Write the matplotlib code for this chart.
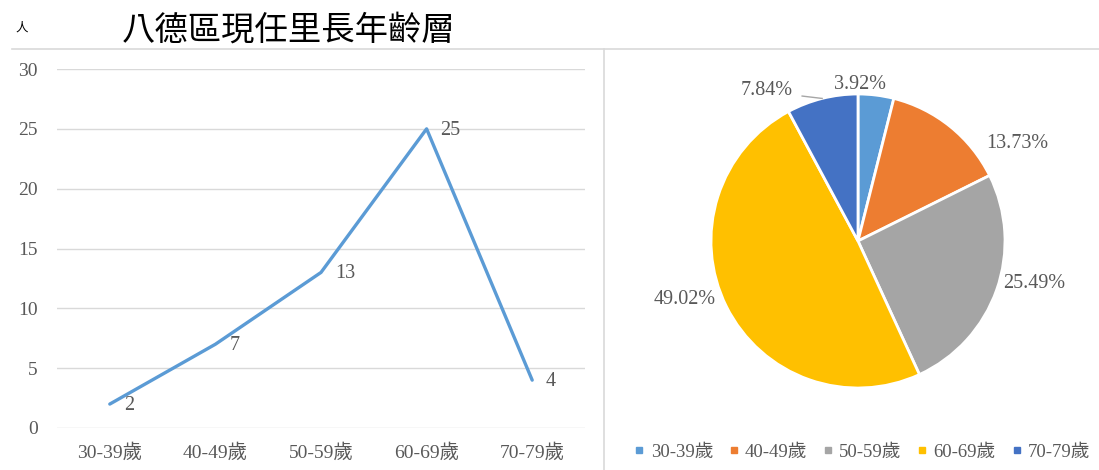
import matplotlib
matplotlib.use("Agg")
import matplotlib.pyplot as plt
from matplotlib.lines import Line2D
import numpy as np

plt.rcParams['font.family'] = ['Liberation Serif', 'Noto Sans CJK TC', 'DejaVu Sans']

categories = ["30-39歲", "40-49歲", "50-59歲", "60-69歲", "70-79歲"]
counts = [2, 7, 13, 25, 4]
title = "八德區現任里長年齡層"
unit_label = "人"
yticks = [0, 5, 10, 15, 20, 25, 30]
pie_colors = ["#5B9BD5", "#ED7D31", "#A5A5A5", "#FFC000", "#4472C4"]

TXT = "#595959"
GRID = "#D9D9D9"
W, H = 1099, 470

fig = plt.figure(figsize=(W / 100, H / 100), dpi=100)

def fx(px):
    return px / W

def fy(py):
    return 1 - py / H

# separator lines
fig.add_artist(Line2D([fx(12), fx(1099)], [fy(49), fy(49)], color=GRID, lw=1.2))
fig.add_artist(Line2D([fx(604), fx(604)], [fy(49), fy(470)], color=GRID, lw=1.2))

# title texts
fig.text(fx(122), fy(30), title, fontsize=24, color="black", ha="left", va="center",
         family=['Noto Sans CJK TC'])
fig.text(fx(22), fy(28), unit_label, fontsize=9, color="black", ha="center", va="center",
         family=['Noto Sans CJK TC'])

# line chart
ax = fig.add_axes([fx(57), fy(428), fx(585) - fx(57), fy(69) - fy(428)])
x = np.arange(len(categories))
ax.plot(x, counts, color="#5B9BD5", lw=2.4, solid_capstyle="round", zorder=3)
for xi, v in zip(x, counts):
    ax.annotate(str(v), (xi, v), xytext=(10, -1), textcoords="offset points",
                ha="left", va="center", fontsize=14.5, color=TXT)
ax.set_xlim(-0.5, len(categories) - 0.5)
ax.set_ylim(0, 30)
ax.set_yticks(yticks)
ax.set_xticks(x)
ax.set_xticklabels(categories)
ax.grid(axis="y", color=GRID, lw=1)
ax.set_axisbelow(True)
for s in ax.spines.values():
    s.set_visible(False)
ax.tick_params(axis="both", length=0, colors=TXT, labelsize=14)
ax.tick_params(axis="x", pad=11)
ax.tick_params(axis="y", pad=14)

# pie chart
r = 147
axp = fig.add_axes([fx(858 - r), fy(241 + r), fx(2 * r), fy(241 - r) - fy(241 + r)])
wedges, _ = axp.pie(counts, colors=pie_colors, startangle=90, counterclock=False,
                    wedgeprops=dict(edgecolor="white", linewidth=2))
axp.set_xlim(-1, 1)
axp.set_ylim(-1, 1)
axp.set_aspect("equal")
axp.axis("off")

total = sum(counts)
label_pos = [(0.014, 1.068), (1.085, 0.66), (1.2, -0.286), (-1.18, -0.395), (-0.62, 1.027)]
for v, (lx, ly) in zip(counts, label_pos):
    axp.text(lx, ly, f"{100 * v / total:.2f}%", fontsize=14.5, color=TXT,
             ha="center", va="center", clip_on=False)
# leader line for the last slice
w = wedges[-1]
mid = np.deg2rad((w.theta1 + w.theta2) / 2)
axp.plot([-0.38, np.cos(mid)], [0.986, np.sin(mid)], color="#A6A6A6", lw=1, clip_on=False)

handles = [Line2D([], [], marker="s", ls="none", color=c, markersize=4.5) for c in pie_colors]
fig.legend(handles, categories, loc="center", bbox_to_anchor=(fx(862), fy(452)), ncol=5,
           frameon=False, fontsize=13.5, handlelength=0.6, handletextpad=0.3,
           columnspacing=0.8, labelcolor=TXT)

fig.savefig("out.png", dpi=100)
